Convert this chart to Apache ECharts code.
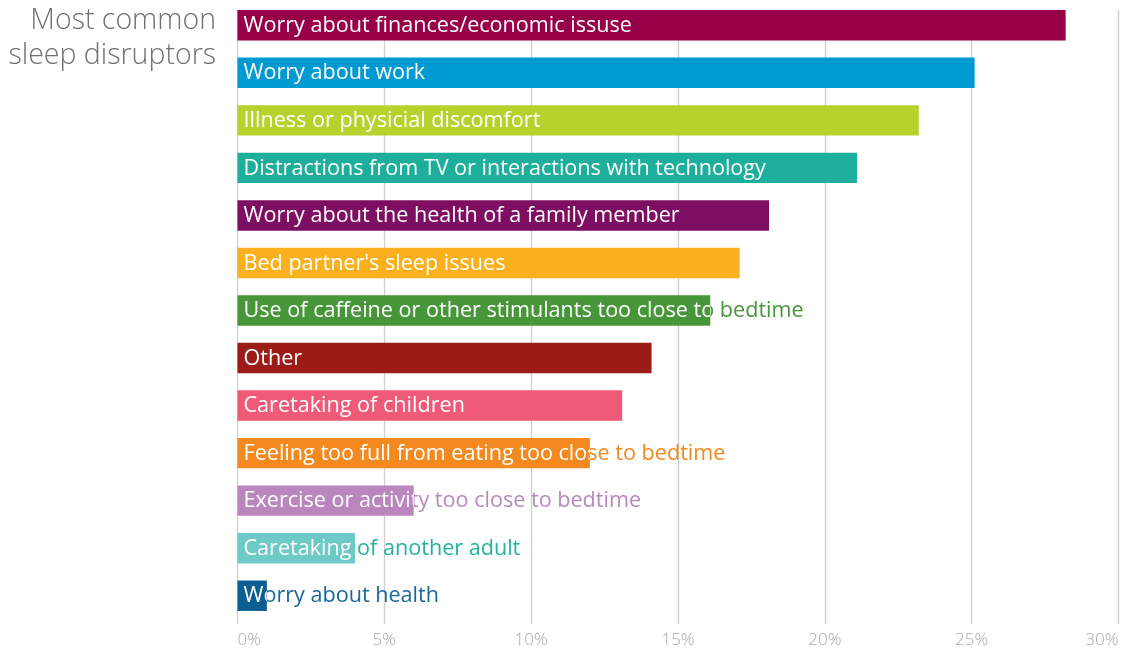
<!DOCTYPE html>
<html>
<head>
<meta charset="utf-8">
<script src="https://cdn.jsdelivr.net/npm/echarts@6/dist/echarts.min.js"></script>
<style>
  html, body { margin: 0; padding: 0; background: #fff; }
  #chart { width: 1126px; height: 649px; }
</style>
</head>
<body>
<div id="chart"></div>
<script>
// Share of respondents naming each sleep disruptor (%)
const categories = [
  'Worry about finances/economic issuse',
  'Worry about work',
  'Illness or physicial discomfort',
  'Distractions from TV or interactions with technology',
  'Worry about the health of a family member',
  "Bed partner's sleep issues",
  'Use of caffeine or other stimulants too close to bedtime',
  'Other',
  'Caretaking of children',
  'Feeling too full from eating too close to bedtime',
  'Exercise or activity too close to bedtime',
  'Caretaking of another adult',
  'Worry about health'
];
const values = [28.2, 25.1, 23.2, 21.1, 18.1, 17.1, 16.1, 14.1, 13.1, 12.0, 6.0, 4.0, 1.0];
const barColors = [
  '#970049', '#009ad2', '#b7d12d', '#1daf9b', '#7d0e62', '#fbb01d', '#48963a',
  '#9b1c17', '#f05a79', '#f3891f', '#b987bd', '#6ecac6', '#0b5e91'
];
const textColors = [
  '#970049', '#009ad2', '#b7d12d', '#1daf9b', '#7d0e62', '#fbb01d', '#48963a',
  '#9b1c17', '#f05a79', '#f3891f', '#b987bd', '#22b29d', '#17699a'
];
const tickLabels = ['0%', '5%', '10%', '15%', '20%', '25%', '30%'];
const titleLines = ['Most common', 'sleep disruptors'];

const FONT = '"Open Sans", "Noto Sans", sans-serif';
const chart = echarts.init(document.getElementById('chart'));

chart.setOption({
  animation: false,
  graphic: [
    {
      type: 'text',
      x: 216,
      y: 3,
      silent: true,
      style: {
        text: titleLines.join('\n'),
        align: 'right',
        verticalAlign: 'top',
        font: '300 28.5px ' + FONT,
        lineHeight: 35,
        fill: '#707070'
      }
    }
  ],
  grid: [
    // grid for the percentage scale and its vertical guide lines
    { left: 237.5, right: 7.5, top: 10, bottom: 24 },
    // grid for the bars themselves
    { left: 237.5, right: 7.5, top: 1.5, bottom: 29.5 }
  ],
  xAxis: [
    {
      gridIndex: 0, type: 'value', min: 0, max: 30, interval: 5,
      axisLine: { show: false }, axisTick: { show: false },
      splitLine: { show: true, lineStyle: { color: '#cfcfcf', width: 1.3 } },
      axisLabel: {
        margin: 8,
        color: '#a8a8a8',
        fontFamily: FONT,
        fontSize: 17,
        fontWeight: 300,
        alignMinLabel: 'left',
        alignMaxLabel: 'right',
        formatter: (v) => tickLabels[Math.round(v / 5)]
      }
    },
    {
      gridIndex: 1, type: 'value', min: 0, max: 30, interval: 5, show: false,
      splitLine: { show: false }
    }
  ],
  yAxis: [
    { gridIndex: 0, type: 'value', show: false, splitLine: { show: false } },
    {
      gridIndex: 1, type: 'category', data: categories, inverse: true, show: false
    }
  ],
  series: [
    {
      type: 'bar',
      xAxisIndex: 1, yAxisIndex: 1,
      data: values.map((v, i) => ({ value: v, itemStyle: { color: barColors[i] } })),
      barCategoryGap: '36%',
      silent: true
    },
    {
      // labels: white over the bar, bar-coloured beyond its end
      type: 'custom',
      xAxisIndex: 1, yAxisIndex: 1,
      data: values.map((v, i) => [v, i]),
      silent: true,
      z: 5,
      renderItem: function (params, api) {
        const i = params.dataIndex;
        const v = api.value(0);
        const start = api.coord([0, i]);
        const end = api.coord([v, i]);
        const h = api.size([0, 1])[1] * 0.64;
        const top = start[1] - h / 2;
        const textStyle = {
          text: categories[i],
          x: start[0] + 6,
          y: start[1] + 0.5,
          verticalAlign: 'middle',
          align: 'left',
          font: '21.6px ' + FONT
        };
        return {
          type: 'group',
          children: [
            {
              type: 'text',
              style: Object.assign({}, textStyle, { fill: textColors[i] }),
              clipPath: { type: 'rect', shape: { x: end[0], y: top - 10, width: 1200, height: h + 20 } }
            },
            {
              type: 'text',
              style: Object.assign({}, textStyle, { fill: '#ffffff' }),
              clipPath: { type: 'rect', shape: { x: start[0], y: top - 10, width: end[0] - start[0], height: h + 20 } }
            }
          ]
        };
      }
    }
  ]
});
</script>
</body>
</html>
